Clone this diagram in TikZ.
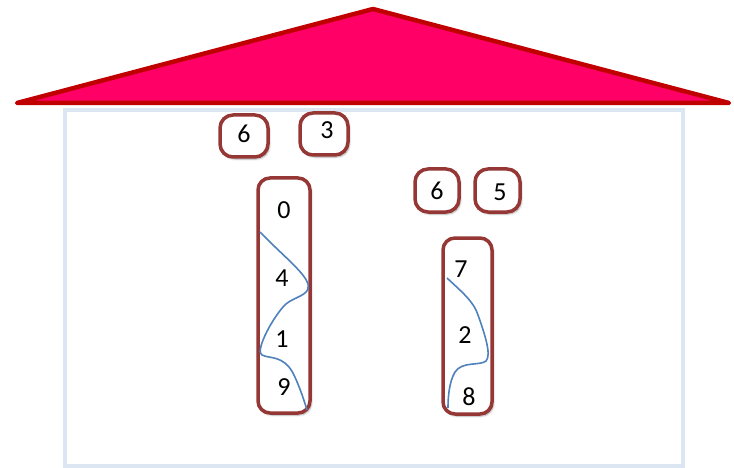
\documentclass[tikz,border=0pt]{standalone}
\usepackage{fontspec}
\setmainfont{Carlito}
\usetikzlibrary{shadows.blur}
\definecolor{roofred}{HTML}{FF0066}
\definecolor{roofline}{HTML}{C00000}
\definecolor{wallblue}{HTML}{DCE6F2}
\definecolor{boxred}{HTML}{953735}
\definecolor{curveblue}{HTML}{4F81BD}
\tikzset{
  cell/.style={draw=boxred, line width=3.5pt, fill=white, rounded corners=13pt, inner sep=0pt,
    blur shadow={shadow blur steps=6, shadow xshift=1.5pt, shadow yshift=-2pt, shadow opacity=35}},
  digit/.style={font=\fontsize{26}{26}\selectfont, inner sep=0pt},
  curve/.style={draw=curveblue, line width=1.6pt},
}
\begin{document}
\begin{tikzpicture}[x=1pt,y=-1pt]
\useasboundingbox (0,0) rectangle (734,468);
% wall
\draw[wallblue, line width=3.5pt] (65,110) rectangle (683,466);
% roof
\draw[fill=roofred, draw=roofline, line width=4.5pt, line join=round, line cap=round]
  (17,103) -- (373,9) -- (729,103) -- cycle;
% small boxes
\node[cell, minimum width=48pt, minimum height=42pt] (b6a) at (244,136) {};
\node[cell, minimum width=48pt, minimum height=42pt] (b3) at (324,134) {};
\node[cell, minimum width=44pt, minimum height=43pt] (b6b) at (437,190.5) {};
\node[cell, minimum width=45pt, minimum height=43pt] (b5) at (497.5,190.5) {};
\node[digit] (t6a) at (244,134) {6};
\node[digit] (t3) at (327,130) {3};
\node[digit] (t6b) at (437,191) {6};
\node[digit] (t5) at (500,192) {5};
% tall boxes
\node[cell, minimum width=52pt, minimum height=235pt, rounded corners=12pt] (col1) at (284,295.5) {};
\node[cell, minimum width=49pt, minimum height=176pt, rounded corners=12pt] (col2) at (467.5,326) {};
\node[digit] (t0) at (284,210) {0};
\node[digit] (t4) at (282,278) {4};
\node[digit] (t1) at (282,339) {1};
\node[digit] (t9) at (284,387) {9};
\node[digit] (t7) at (461,269) {7};
\node[digit] (t2) at (465,335) {2};
\node[digit] (t8) at (469,397) {8};
% curves
\draw[curve] (260,232) .. controls (285,258) and (312,278) .. (308,289)
  .. controls (305,297) and (290,298) .. (283,307)
  .. controls (270,322) and (255,352) .. (262,355)
  .. controls (270,359) and (283,355) .. (293,373)
  .. controls (299,385) and (304,400) .. (307,410);
\draw[curve] (447,278) .. controls (462,292) and (474,302) .. (478,315)
  .. controls (484,332) and (492,355) .. (486,361)
  .. controls (480,366) and (462,361) .. (455,372)
  .. controls (449,382) and (448,398) .. (448,408);
\end{tikzpicture}
\end{document}
